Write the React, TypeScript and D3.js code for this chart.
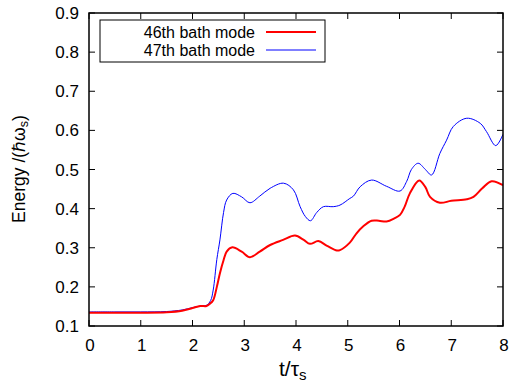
import React from "react";
import * as d3 from "d3";

const xTicks = [0, 1, 2, 3, 4, 5, 6, 7, 8];
const yTicks = [0.1, 0.2, 0.3, 0.4, 0.5, 0.6, 0.7, 0.8, 0.9];

const blueT = [0, 0.5, 1.0, 1.5, 1.8, 2.0, 2.15, 2.27, 2.35, 2.4, 2.47, 2.53, 2.6, 2.66, 2.78, 2.95, 3.11, 3.3, 3.5, 3.76, 3.95, 4.08, 4.18, 4.28, 4.4, 4.53, 4.72, 4.85, 5.04, 5.11, 5.24, 5.46, 5.75, 6.01, 6.14, 6.23, 6.36, 6.5, 6.62, 6.78, 6.91, 7.04, 7.3, 7.56, 7.68, 7.86, 8.0];
const blueE = [0.136, 0.136, 0.136, 0.137, 0.141, 0.147, 0.151, 0.153, 0.165, 0.192, 0.27, 0.32, 0.39, 0.422, 0.439, 0.43, 0.415, 0.432, 0.452, 0.465, 0.448, 0.405, 0.38, 0.369, 0.39, 0.405, 0.405, 0.409, 0.426, 0.432, 0.456, 0.473, 0.457, 0.445, 0.47, 0.5, 0.516, 0.5, 0.486, 0.541, 0.575, 0.61, 0.631, 0.618, 0.597, 0.561, 0.59];

const redT = [0, 0.5, 1.0, 1.5, 1.8, 2.0, 2.15, 2.27, 2.33, 2.4, 2.47, 2.53, 2.6, 2.66, 2.77, 2.95, 3.11, 3.3, 3.5, 3.75, 3.98, 4.15, 4.27, 4.43, 4.6, 4.79, 4.85, 5.04, 5.17, 5.3, 5.46, 5.6, 5.75, 5.9, 6.01, 6.1, 6.2, 6.38, 6.5, 6.59, 6.78, 7.0, 7.3, 7.43, 7.6, 7.78, 8.0];
const redE = [0.134, 0.134, 0.134, 0.135, 0.139, 0.146, 0.151, 0.151, 0.156, 0.166, 0.2, 0.235, 0.268, 0.29, 0.301, 0.29, 0.276, 0.29, 0.307, 0.32, 0.331, 0.32, 0.31, 0.317, 0.305, 0.293, 0.294, 0.313, 0.337, 0.355, 0.369, 0.369, 0.367, 0.375, 0.384, 0.405, 0.439, 0.472, 0.455, 0.43, 0.415, 0.42, 0.424, 0.43, 0.452, 0.47, 0.46];

const legendLabels = ["46th bath mode", "47th bath mode"];

const W = 509, H = 383;
const L = 89, R = 503, T = 13, B = 326;

export default function App() {
  const x = d3.scaleLinear().domain([0, 8]).range([L, R]);
  const y = d3.scaleLinear().domain([0.1, 0.9]).range([B, T]);
  const line = d3
    .line<[number, number]>()
    .x((d) => x(d[0]))
    .y((d) => y(d[1]))
    .curve(d3.curveCatmullRom.alpha(0.5));
  const red = line(redT.map((t, i) => [t, redE[i]]) as [number, number][]) || "";
  const blue = line(blueT.map((t, i) => [t, blueE[i]]) as [number, number][]) || "";
  const font = "'Liberation Sans', Arial, Helvetica, sans-serif";
  const tl = 6;
  return (
    <svg width={W} height={H} style={{ position: "absolute", left: 0, top: 0 }} fontFamily={font}>
      <rect width={W} height={H} fill="#fff" />
      {xTicks.map((t) => (
        <g key={"x" + t}>
          <line x1={x(t)} x2={x(t)} y1={B} y2={B - tl} stroke="#000" strokeWidth={1} />
          <line x1={x(t)} x2={x(t)} y1={T} y2={T + tl} stroke="#000" strokeWidth={1} />
          <text x={x(t) + 1} y={351} fontSize={17} textAnchor="middle" fill="#000">{t}</text>
        </g>
      ))}
      {yTicks.map((t) => (
        <g key={"y" + t}>
          <line x1={L} x2={L + tl} y1={y(t)} y2={y(t)} stroke="#000" strokeWidth={1} />
          <line x1={R} x2={R - tl} y1={y(t)} y2={y(t)} stroke="#000" strokeWidth={1} />
          <text x={79} y={y(t) + 6} fontSize={17} textAnchor="end" fill="#000">{t.toFixed(1)}</text>
        </g>
      ))}
      <clipPath id="plotclip">
        <rect x={L} y={T} width={R - L} height={B - T} />
      </clipPath>
      <g clipPath="url(#plotclip)">
        <path d={blue} fill="none" stroke="#0000ff" strokeWidth={1} />
        <path d={red} fill="none" stroke="#ff0000" strokeWidth={2} />
      </g>
      <rect x={L} y={T} width={R - L} height={B - T} fill="none" stroke="#000" strokeWidth={1.5} />
      <rect x={100} y={20} width={225} height={42} fill="#fff" stroke="#000" strokeWidth={1} />
      <text x={255} y={38} fontSize={16} textAnchor="end" fill="#000">{legendLabels[0]}</text>
      <line x1={266} x2={316} y1={32} y2={32} stroke="#ff0000" strokeWidth={2} />
      <text x={255} y={56} fontSize={16} textAnchor="end" fill="#000">{legendLabels[1]}</text>
      <line x1={266} x2={316} y1={50} y2={50} stroke="#0000ff" strokeWidth={1} />
      <text x={279} y={376} fontSize={21} fill="#000">
        t/τ<tspan fontSize={15} dy={4}>s</tspan>
      </text>
      <text transform="translate(25,169) rotate(-90)" fontSize={17.5} textAnchor="middle" fill="#000">
        Energy /(ℏω<tspan fontSize={12.5} dy={3}>s</tspan><tspan dy={-3}>)</tspan>
      </text>
    </svg>
  );
}
